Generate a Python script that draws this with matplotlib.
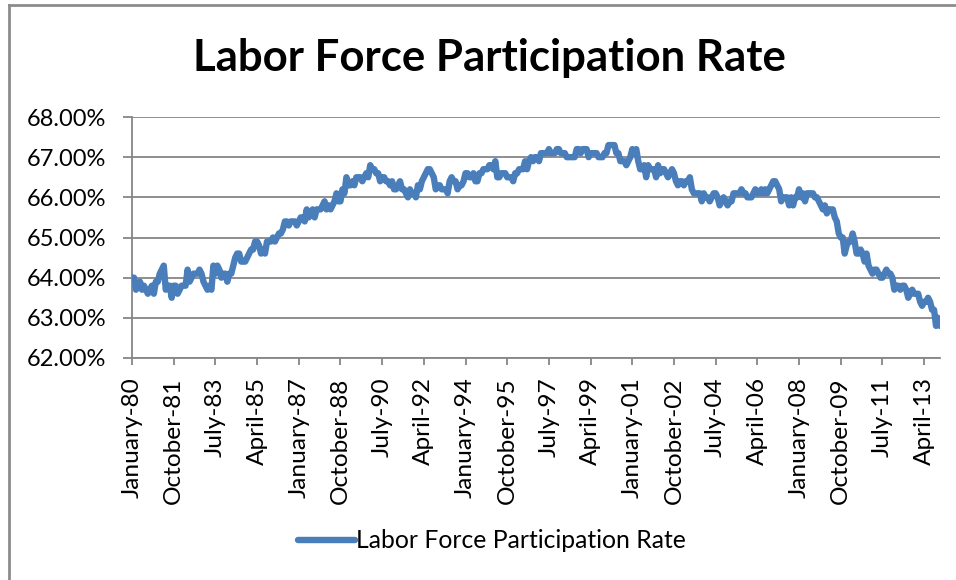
import matplotlib
matplotlib.use("Agg")
import matplotlib.pyplot as plt
import numpy as np
from matplotlib.lines import Line2D
from matplotlib.ticker import FuncFormatter

# monthly labor force participation rate (%), Jan 1980 - Dec 2013
lfpr = [
    64.0, 64.0, 63.7, 63.8, 63.9, 63.7, 63.8, 63.7, 63.6, 63.7, 63.8, 63.6,  # 1980
    63.9, 63.9, 64.1, 64.2, 64.3, 63.7, 63.8, 63.8, 63.5, 63.8, 63.8, 63.6,  # 1981
    63.7, 63.8, 63.8, 63.8, 64.2, 63.9, 64.0, 64.1, 64.1, 64.1, 64.2, 64.1,  # 1982
    63.9, 63.8, 63.7, 63.8, 63.7, 64.3, 64.1, 64.3, 64.2, 64.0, 64.1, 64.1,  # 1983
    63.9, 64.1, 64.1, 64.3, 64.5, 64.6, 64.6, 64.4, 64.4, 64.4, 64.5, 64.6,  # 1984
    64.7, 64.7, 64.9, 64.9, 64.8, 64.6, 64.7, 64.6, 64.9, 64.9, 64.9, 65.0,  # 1985
    64.9, 65.0, 65.1, 65.1, 65.2, 65.4, 65.4, 65.3, 65.4, 65.4, 65.4, 65.3,  # 1986
    65.4, 65.5, 65.5, 65.4, 65.7, 65.5, 65.6, 65.7, 65.5, 65.7, 65.7, 65.7,  # 1987
    65.8, 65.9, 65.7, 65.8, 65.7, 65.8, 65.9, 66.1, 65.9, 65.9, 66.2, 66.1,  # 1988
    66.5, 66.3, 66.3, 66.4, 66.3, 66.5, 66.5, 66.5, 66.4, 66.5, 66.6, 66.5,  # 1989
    66.8, 66.7, 66.7, 66.6, 66.6, 66.4, 66.5, 66.5, 66.4, 66.4, 66.3, 66.4,  # 1990
    66.2, 66.2, 66.3, 66.4, 66.2, 66.2, 66.1, 66.0, 66.2, 66.1, 66.1, 66.0,  # 1991
    66.3, 66.2, 66.4, 66.5, 66.6, 66.7, 66.7, 66.6, 66.5, 66.2, 66.3, 66.3,  # 1992
    66.2, 66.2, 66.2, 66.1, 66.4, 66.5, 66.4, 66.4, 66.2, 66.3, 66.3, 66.4,  # 1993
    66.6, 66.6, 66.5, 66.5, 66.6, 66.4, 66.4, 66.6, 66.6, 66.7, 66.7, 66.7,  # 1994
    66.8, 66.8, 66.7, 66.9, 66.5, 66.5, 66.6, 66.6, 66.6, 66.5, 66.5, 66.5,  # 1995
    66.4, 66.6, 66.6, 66.7, 66.7, 66.7, 66.9, 66.7, 66.9, 67.0, 66.9, 67.0,  # 1996
    67.0, 66.9, 67.1, 67.1, 67.1, 67.1, 67.2, 67.1, 67.1, 67.1, 67.2, 67.2,  # 1997
    67.1, 67.1, 67.1, 67.0, 67.0, 67.0, 67.0, 67.0, 67.2, 67.2, 67.1, 67.2,  # 1998
    67.2, 67.2, 67.0, 67.1, 67.1, 67.1, 67.1, 67.0, 67.0, 67.0, 67.1, 67.1,  # 1999
    67.3, 67.3, 67.3, 67.3, 67.1, 67.1, 66.9, 66.9, 66.9, 66.8, 66.9, 67.0,  # 2000
    67.2, 67.1, 67.2, 66.9, 66.7, 66.7, 66.8, 66.5, 66.8, 66.7, 66.7, 66.7,  # 2001
    66.5, 66.8, 66.6, 66.7, 66.7, 66.6, 66.5, 66.6, 66.7, 66.6, 66.4, 66.3,  # 2002
    66.4, 66.4, 66.3, 66.4, 66.4, 66.5, 66.2, 66.1, 66.1, 66.1, 66.1, 65.9,  # 2003
    66.1, 66.0, 66.0, 65.9, 66.0, 66.1, 66.1, 66.0, 65.8, 65.9, 66.0, 65.9,  # 2004
    65.8, 65.9, 65.9, 66.1, 66.1, 66.1, 66.1, 66.2, 66.1, 66.1, 66.0, 66.0,  # 2005
    66.0, 66.1, 66.2, 66.1, 66.1, 66.2, 66.1, 66.2, 66.1, 66.2, 66.3, 66.4,  # 2006
    66.4, 66.3, 66.2, 65.9, 66.0, 66.0, 66.0, 65.8, 66.0, 65.8, 66.0, 66.0,  # 2007
    66.2, 66.0, 66.1, 65.9, 66.1, 66.1, 66.1, 66.1, 66.0, 66.0, 65.9, 65.8,  # 2008
    65.7, 65.8, 65.6, 65.7, 65.7, 65.7, 65.5, 65.4, 65.1, 65.0, 65.0, 64.6,  # 2009
    64.8, 64.9, 64.9, 65.1, 64.9, 64.6, 64.6, 64.7, 64.6, 64.4, 64.6, 64.3,  # 2010
    64.2, 64.1, 64.2, 64.2, 64.1, 64.0, 64.0, 64.1, 64.2, 64.1, 64.1, 64.0,  # 2011
    63.7, 63.8, 63.8, 63.7, 63.8, 63.8, 63.7, 63.5, 63.6, 63.7, 63.6, 63.6,  # 2012
    63.6, 63.4, 63.3, 63.4, 63.4, 63.5, 63.4, 63.2, 63.2, 62.8, 63.0, 62.8,  # 2013
]

tick_labels = ['January-80', 'October-81', 'July-83', 'April-85', 'January-87',
               'October-88', 'July-90', 'April-92', 'January-94', 'October-95',
               'July-97', 'April-99', 'January-01', 'October-02', 'July-04',
               'April-06', 'January-08', 'October-09', 'July-11', 'April-13']

plt.rcParams['font.family'] = ['Lato', 'DejaVu Sans']

fig = plt.figure(figsize=(9.56, 5.8), dpi=100)
ax = fig.add_axes([132/956, 1-358/580, (940-132)/956, (358-117)/580])

x = np.arange(len(lfpr))
ax.plot(x, lfpr, color='#4a7ebb', lw=4.6, solid_joinstyle='round',
        solid_capstyle='round', label='Labor Force Participation Rate', zorder=3)

ax.set_xlim(0, len(lfpr) - 1)
ax.set_ylim(62, 68)
ax.set_yticks(np.arange(62, 68.1, 1))
ax.yaxis.set_major_formatter(FuncFormatter(lambda v, p: '%.2f%%' % v))
ax.set_xticks(np.arange(0, len(lfpr), 21))
ax.set_xticklabels(tick_labels, rotation=90)

ax.grid(axis='y', color='#868686', lw=1.3)
ax.set_axisbelow(True)
for s in ['top', 'right']:
    ax.spines[s].set_visible(False)
for s in ['left', 'bottom']:
    ax.spines[s].set_color('#868686')
    ax.spines[s].set_linewidth(1.3)
ax.tick_params(axis='both', colors='#868686', labelcolor='black', width=1.3)
ax.tick_params(axis='y', labelsize=17, length=6.5, pad=12)
ax.tick_params(axis='x', labelsize=17.6, length=5, pad=9)

fig.text(489/956, 1-58/580, 'Labor Force Participation Rate', ha='center', va='center',
         fontsize=31.5, fontweight='bold')

fig.legend(loc='center', bbox_to_anchor=(492/956, 1-541/580), frameon=False,
           fontsize=17.8, handlelength=2.3, handletextpad=0.02)

# chart area border (only top and left edges fall inside the picture)
fig.lines.append(Line2D([9/956, 9/956], [0, 1-5/580], transform=fig.transFigure,
                        color='#8c8c8c', lw=2))
fig.lines.append(Line2D([9/956, 1], [1-5/580, 1-5/580], transform=fig.transFigure,
                        color='#8c8c8c', lw=2))

fig.savefig('out.png', dpi=100)
